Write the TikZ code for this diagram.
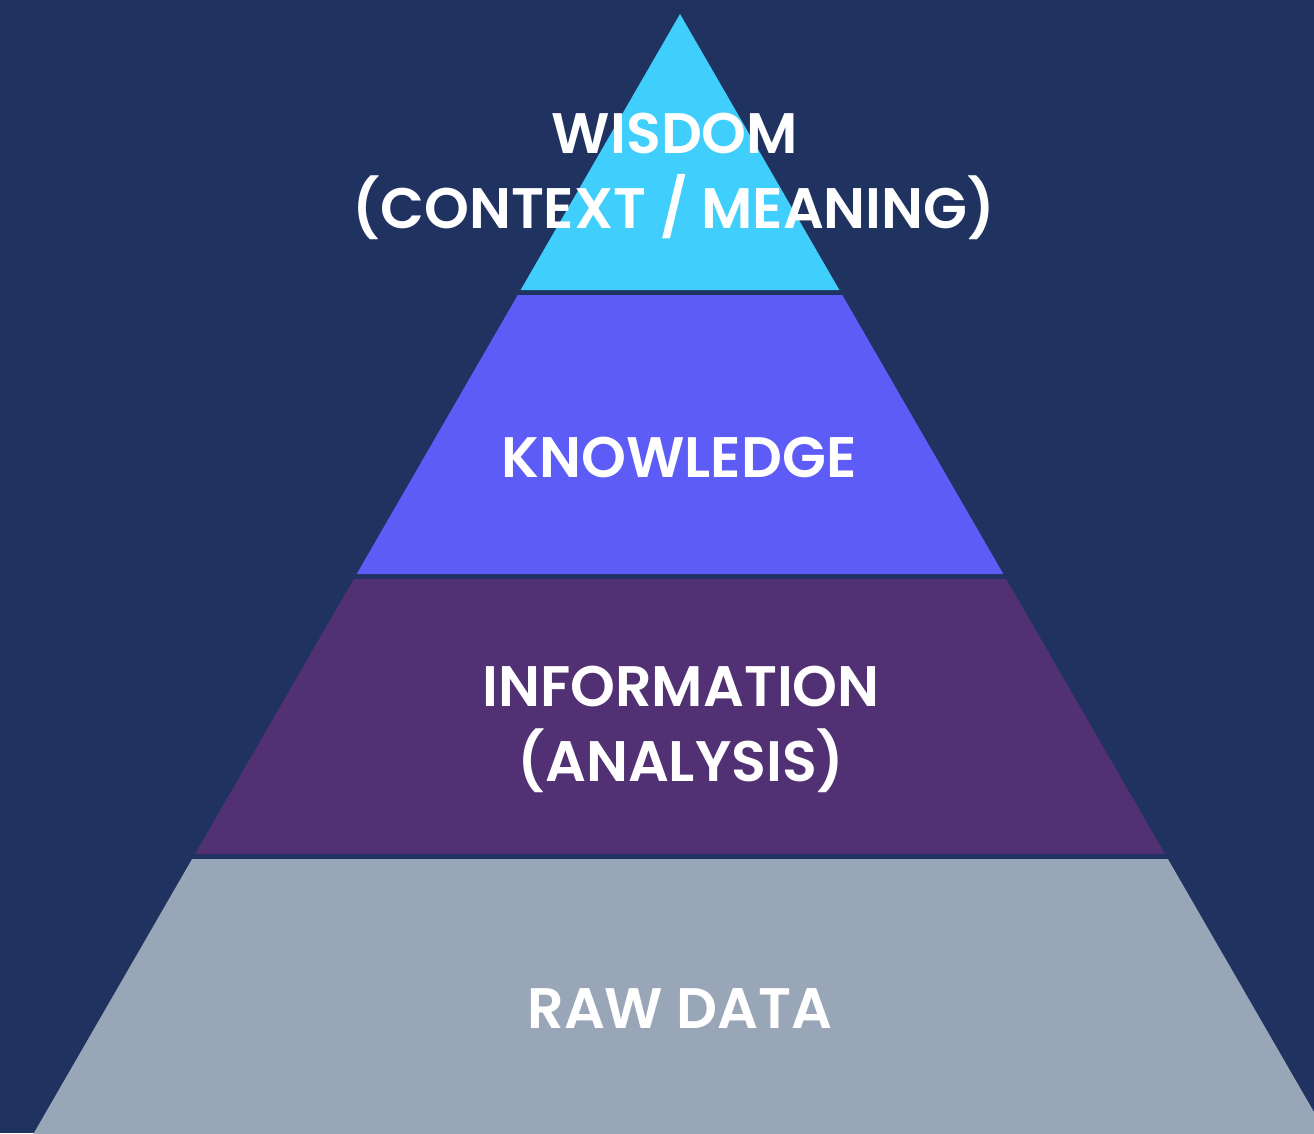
\documentclass[tikz,border=0pt]{standalone}
\usepackage{fontspec}
\setmainfont{Poppins}[BoldFont={* SemiBold}]
\definecolor{bgc}{HTML}{203260}
\definecolor{wisc}{HTML}{40CFFD}
\definecolor{knoc}{HTML}{5D5CF7}
\definecolor{infc}{HTML}{513174}
\definecolor{rawc}{HTML}{99A6B8}
\tikzset{
  lbl/.style={text=white, anchor=base, inner sep=0pt, font=\fontsize{32.5}{39}\selectfont\bfseries}
}
\begin{document}
\begin{tikzpicture}[x=0.02cm,y=-0.02cm]
\fill[bgc] (0,0) rectangle (1314,1133);
\useasboundingbox (0,0) rectangle (1314,1133);
\begin{scope}
\clip (0,0) rectangle (1314,1133);
% bands of the pyramid, apex at (680,14), sides at 30 degrees
\foreach \ya/\yb/\c in {14/290/wisc,295/574/knoc,579/854/infc,859/1140/rawc} {
  \fill[\c] ({680-0.5774*(\ya-14)},\ya) -- ({680+0.5774*(\ya-14)},\ya)
    -- ({680+0.5774*(\yb-14)},\yb) -- ({680-0.5774*(\yb-14)},\yb) -- cycle;
}
\end{scope}
\node[lbl] (wis) at (675,153) {WISDOM};
\node[lbl] (wis-b) at (674,228) {(CONTEXT / MEANING)};
\node[lbl] (kno) at (679,477) {KNOWLEDGE};
\node[lbl] (inf) at (681,706) {INFORMATION};
\node[lbl] (inf-b) at (681,781) {(ANALYSIS)};
\node[lbl] (raw) at (680,1028) {RAW DATA};
\end{tikzpicture}
\end{document}
